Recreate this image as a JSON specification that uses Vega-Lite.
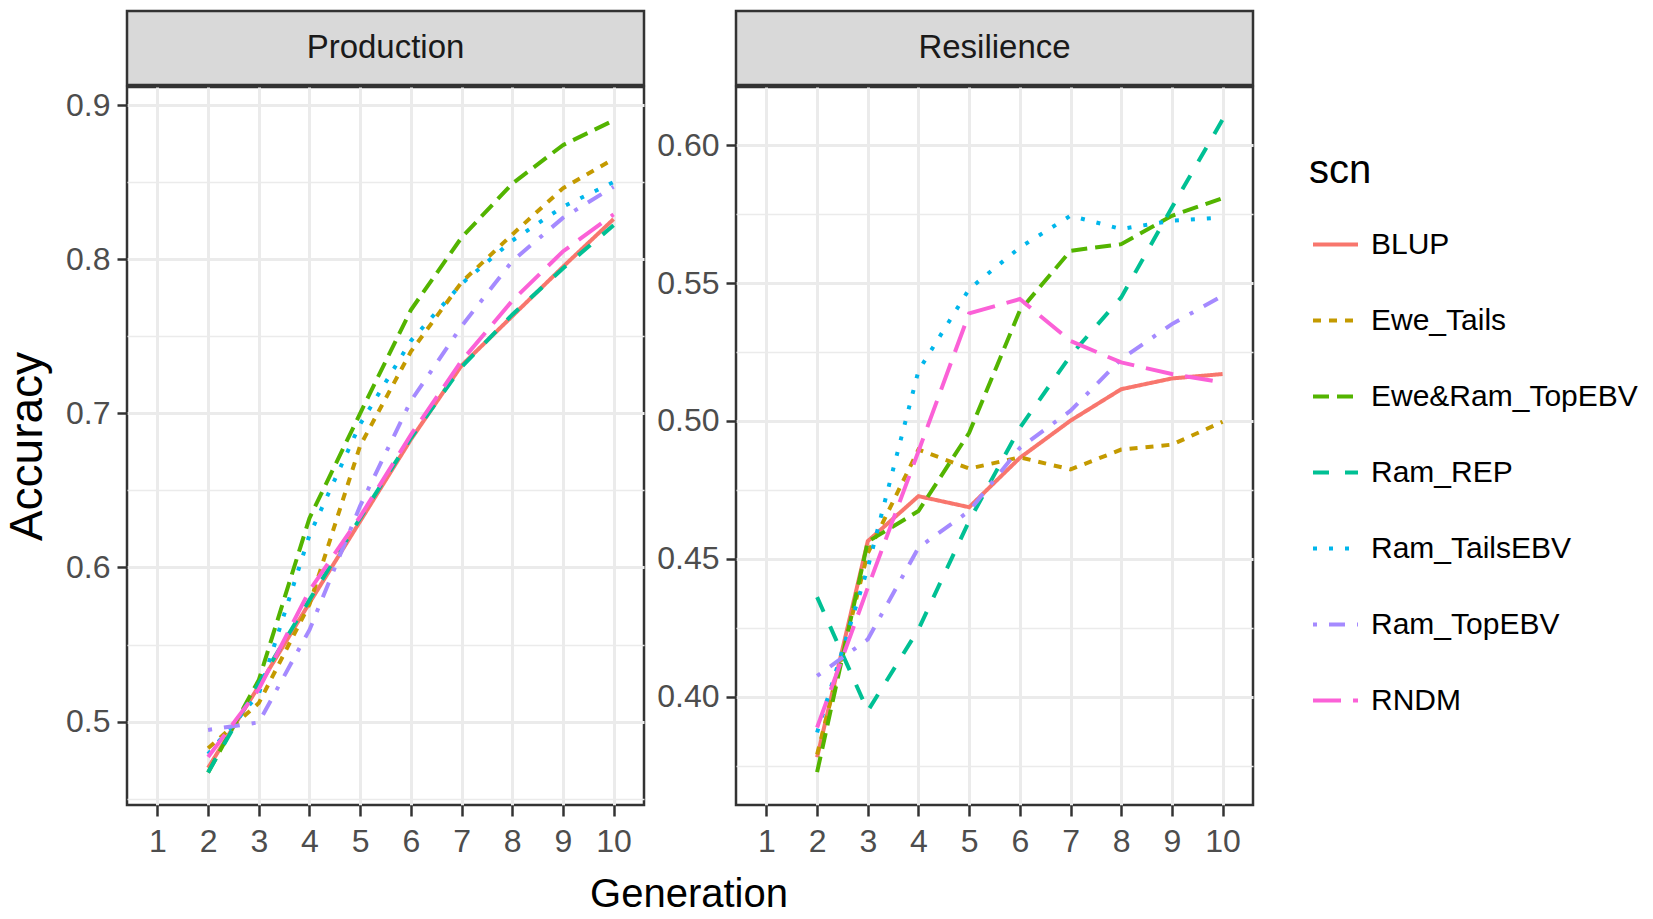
{
  "$schema": "https://vega.github.io/schema/vega-lite/v6.json",
  "background": "white",
  "padding": {"left": 3, "top": 9, "right": 5, "bottom": 0},
  "datasets": {
    "acc": [
      {"trait": "Production", "scn": "BLUP", "gen": 2, "acc": 0.470},
      {"trait": "Production", "scn": "BLUP", "gen": 3, "acc": 0.523},
      {"trait": "Production", "scn": "BLUP", "gen": 4, "acc": 0.577},
      {"trait": "Production", "scn": "BLUP", "gen": 5, "acc": 0.630},
      {"trait": "Production", "scn": "BLUP", "gen": 6, "acc": 0.683},
      {"trait": "Production", "scn": "BLUP", "gen": 7, "acc": 0.731},
      {"trait": "Production", "scn": "BLUP", "gen": 8, "acc": 0.763},
      {"trait": "Production", "scn": "BLUP", "gen": 9, "acc": 0.795},
      {"trait": "Production", "scn": "BLUP", "gen": 10, "acc": 0.826},
      {"trait": "Production", "scn": "Ewe_Tails", "gen": 2, "acc": 0.4827},
      {"trait": "Production", "scn": "Ewe_Tails", "gen": 3, "acc": 0.512},
      {"trait": "Production", "scn": "Ewe_Tails", "gen": 4, "acc": 0.576},
      {"trait": "Production", "scn": "Ewe_Tails", "gen": 5, "acc": 0.679},
      {"trait": "Production", "scn": "Ewe_Tails", "gen": 6, "acc": 0.740},
      {"trait": "Production", "scn": "Ewe_Tails", "gen": 7, "acc": 0.785},
      {"trait": "Production", "scn": "Ewe_Tails", "gen": 8, "acc": 0.816},
      {"trait": "Production", "scn": "Ewe_Tails", "gen": 9, "acc": 0.846},
      {"trait": "Production", "scn": "Ewe_Tails", "gen": 10, "acc": 0.865},
      {"trait": "Production", "scn": "Ewe&Ram_TopEBV", "gen": 2, "acc": 0.467},
      {"trait": "Production", "scn": "Ewe&Ram_TopEBV", "gen": 3, "acc": 0.527},
      {"trait": "Production", "scn": "Ewe&Ram_TopEBV", "gen": 4, "acc": 0.632},
      {"trait": "Production", "scn": "Ewe&Ram_TopEBV", "gen": 5, "acc": 0.700},
      {"trait": "Production", "scn": "Ewe&Ram_TopEBV", "gen": 6, "acc": 0.767},
      {"trait": "Production", "scn": "Ewe&Ram_TopEBV", "gen": 7, "acc": 0.814},
      {"trait": "Production", "scn": "Ewe&Ram_TopEBV", "gen": 8, "acc": 0.849},
      {"trait": "Production", "scn": "Ewe&Ram_TopEBV", "gen": 9, "acc": 0.874},
      {"trait": "Production", "scn": "Ewe&Ram_TopEBV", "gen": 10, "acc": 0.890},
      {"trait": "Production", "scn": "Ram_REP", "gen": 2, "acc": 0.467},
      {"trait": "Production", "scn": "Ram_REP", "gen": 3, "acc": 0.525},
      {"trait": "Production", "scn": "Ram_REP", "gen": 4, "acc": 0.579},
      {"trait": "Production", "scn": "Ram_REP", "gen": 5, "acc": 0.632},
      {"trait": "Production", "scn": "Ram_REP", "gen": 6, "acc": 0.684},
      {"trait": "Production", "scn": "Ram_REP", "gen": 7, "acc": 0.730},
      {"trait": "Production", "scn": "Ram_REP", "gen": 8, "acc": 0.764},
      {"trait": "Production", "scn": "Ram_REP", "gen": 9, "acc": 0.794},
      {"trait": "Production", "scn": "Ram_REP", "gen": 10, "acc": 0.822},
      {"trait": "Production", "scn": "Ram_TailsEBV", "gen": 2, "acc": 0.479},
      {"trait": "Production", "scn": "Ram_TailsEBV", "gen": 3, "acc": 0.518},
      {"trait": "Production", "scn": "Ram_TailsEBV", "gen": 4, "acc": 0.621},
      {"trait": "Production", "scn": "Ram_TailsEBV", "gen": 5, "acc": 0.693},
      {"trait": "Production", "scn": "Ram_TailsEBV", "gen": 6, "acc": 0.747},
      {"trait": "Production", "scn": "Ram_TailsEBV", "gen": 7, "acc": 0.784},
      {"trait": "Production", "scn": "Ram_TailsEBV", "gen": 8, "acc": 0.812},
      {"trait": "Production", "scn": "Ram_TailsEBV", "gen": 9, "acc": 0.834},
      {"trait": "Production", "scn": "Ram_TailsEBV", "gen": 10, "acc": 0.850},
      {"trait": "Production", "scn": "Ram_TopEBV", "gen": 2, "acc": 0.4946},
      {"trait": "Production", "scn": "Ram_TopEBV", "gen": 3, "acc": 0.4995},
      {"trait": "Production", "scn": "Ram_TopEBV", "gen": 4, "acc": 0.5595},
      {"trait": "Production", "scn": "Ram_TopEBV", "gen": 5, "acc": 0.640},
      {"trait": "Production", "scn": "Ram_TopEBV", "gen": 6, "acc": 0.708},
      {"trait": "Production", "scn": "Ram_TopEBV", "gen": 7, "acc": 0.7565},
      {"trait": "Production", "scn": "Ram_TopEBV", "gen": 8, "acc": 0.7987},
      {"trait": "Production", "scn": "Ram_TopEBV", "gen": 9, "acc": 0.8268},
      {"trait": "Production", "scn": "Ram_TopEBV", "gen": 10, "acc": 0.847},
      {"trait": "Production", "scn": "RNDM", "gen": 2, "acc": 0.477},
      {"trait": "Production", "scn": "RNDM", "gen": 3, "acc": 0.521},
      {"trait": "Production", "scn": "RNDM", "gen": 4, "acc": 0.585},
      {"trait": "Production", "scn": "RNDM", "gen": 5, "acc": 0.633},
      {"trait": "Production", "scn": "RNDM", "gen": 6, "acc": 0.686},
      {"trait": "Production", "scn": "RNDM", "gen": 7, "acc": 0.734},
      {"trait": "Production", "scn": "RNDM", "gen": 8, "acc": 0.773},
      {"trait": "Production", "scn": "RNDM", "gen": 9, "acc": 0.805},
      {"trait": "Production", "scn": "RNDM", "gen": 10, "acc": 0.829},
      {"trait": "Resilience", "scn": "BLUP", "gen": 2, "acc": 0.378},
      {"trait": "Resilience", "scn": "BLUP", "gen": 3, "acc": 0.4564},
      {"trait": "Resilience", "scn": "BLUP", "gen": 4, "acc": 0.4727},
      {"trait": "Resilience", "scn": "BLUP", "gen": 5, "acc": 0.4687},
      {"trait": "Resilience", "scn": "BLUP", "gen": 6, "acc": 0.4866},
      {"trait": "Resilience", "scn": "BLUP", "gen": 7, "acc": 0.5001},
      {"trait": "Resilience", "scn": "BLUP", "gen": 8, "acc": 0.5115},
      {"trait": "Resilience", "scn": "BLUP", "gen": 9, "acc": 0.5154},
      {"trait": "Resilience", "scn": "BLUP", "gen": 10, "acc": 0.517},
      {"trait": "Resilience", "scn": "Ewe_Tails", "gen": 2, "acc": 0.379},
      {"trait": "Resilience", "scn": "Ewe_Tails", "gen": 3, "acc": 0.452},
      {"trait": "Resilience", "scn": "Ewe_Tails", "gen": 4, "acc": 0.4896},
      {"trait": "Resilience", "scn": "Ewe_Tails", "gen": 5, "acc": 0.4827},
      {"trait": "Resilience", "scn": "Ewe_Tails", "gen": 6, "acc": 0.4868},
      {"trait": "Resilience", "scn": "Ewe_Tails", "gen": 7, "acc": 0.4824},
      {"trait": "Resilience", "scn": "Ewe_Tails", "gen": 8, "acc": 0.4896},
      {"trait": "Resilience", "scn": "Ewe_Tails", "gen": 9, "acc": 0.4914},
      {"trait": "Resilience", "scn": "Ewe_Tails", "gen": 10, "acc": 0.4997},
      {"trait": "Resilience", "scn": "Ewe&Ram_TopEBV", "gen": 2, "acc": 0.3726},
      {"trait": "Resilience", "scn": "Ewe&Ram_TopEBV", "gen": 3, "acc": 0.4562},
      {"trait": "Resilience", "scn": "Ewe&Ram_TopEBV", "gen": 4, "acc": 0.4673},
      {"trait": "Resilience", "scn": "Ewe&Ram_TopEBV", "gen": 5, "acc": 0.4957},
      {"trait": "Resilience", "scn": "Ewe&Ram_TopEBV", "gen": 6, "acc": 0.540},
      {"trait": "Resilience", "scn": "Ewe&Ram_TopEBV", "gen": 7, "acc": 0.5617},
      {"trait": "Resilience", "scn": "Ewe&Ram_TopEBV", "gen": 8, "acc": 0.5641},
      {"trait": "Resilience", "scn": "Ewe&Ram_TopEBV", "gen": 9, "acc": 0.5744},
      {"trait": "Resilience", "scn": "Ewe&Ram_TopEBV", "gen": 10, "acc": 0.5808},
      {"trait": "Resilience", "scn": "Ram_REP", "gen": 2, "acc": 0.4361},
      {"trait": "Resilience", "scn": "Ram_REP", "gen": 3, "acc": 0.3948},
      {"trait": "Resilience", "scn": "Ram_REP", "gen": 4, "acc": 0.4244},
      {"trait": "Resilience", "scn": "Ram_REP", "gen": 5, "acc": 0.4637},
      {"trait": "Resilience", "scn": "Ram_REP", "gen": 6, "acc": 0.4975},
      {"trait": "Resilience", "scn": "Ram_REP", "gen": 7, "acc": 0.5237},
      {"trait": "Resilience", "scn": "Ram_REP", "gen": 8, "acc": 0.5448},
      {"trait": "Resilience", "scn": "Ram_REP", "gen": 9, "acc": 0.5774},
      {"trait": "Resilience", "scn": "Ram_REP", "gen": 10, "acc": 0.6093},
      {"trait": "Resilience", "scn": "Ram_TailsEBV", "gen": 2, "acc": 0.387},
      {"trait": "Resilience", "scn": "Ram_TailsEBV", "gen": 3, "acc": 0.4467},
      {"trait": "Resilience", "scn": "Ram_TailsEBV", "gen": 4, "acc": 0.5182},
      {"trait": "Resilience", "scn": "Ram_TailsEBV", "gen": 5, "acc": 0.5478},
      {"trait": "Resilience", "scn": "Ram_TailsEBV", "gen": 6, "acc": 0.5629},
      {"trait": "Resilience", "scn": "Ram_TailsEBV", "gen": 7, "acc": 0.5744},
      {"trait": "Resilience", "scn": "Ram_TailsEBV", "gen": 8, "acc": 0.5696},
      {"trait": "Resilience", "scn": "Ram_TailsEBV", "gen": 9, "acc": 0.5726},
      {"trait": "Resilience", "scn": "Ram_TailsEBV", "gen": 10, "acc": 0.5738},
      {"trait": "Resilience", "scn": "Ram_TopEBV", "gen": 2, "acc": 0.4075},
      {"trait": "Resilience", "scn": "Ram_TopEBV", "gen": 3, "acc": 0.4208},
      {"trait": "Resilience", "scn": "Ram_TopEBV", "gen": 4, "acc": 0.454},
      {"trait": "Resilience", "scn": "Ram_TopEBV", "gen": 5, "acc": 0.4673},
      {"trait": "Resilience", "scn": "Ram_TopEBV", "gen": 6, "acc": 0.4902},
      {"trait": "Resilience", "scn": "Ram_TopEBV", "gen": 7, "acc": 0.5037},
      {"trait": "Resilience", "scn": "Ram_TopEBV", "gen": 8, "acc": 0.5224},
      {"trait": "Resilience", "scn": "Ram_TopEBV", "gen": 9, "acc": 0.5351},
      {"trait": "Resilience", "scn": "Ram_TopEBV", "gen": 10, "acc": 0.5454},
      {"trait": "Resilience", "scn": "RNDM", "gen": 2, "acc": 0.3888},
      {"trait": "Resilience", "scn": "RNDM", "gen": 3, "acc": 0.4395},
      {"trait": "Resilience", "scn": "RNDM", "gen": 4, "acc": 0.489},
      {"trait": "Resilience", "scn": "RNDM", "gen": 5, "acc": 0.539},
      {"trait": "Resilience", "scn": "RNDM", "gen": 6, "acc": 0.5442},
      {"trait": "Resilience", "scn": "RNDM", "gen": 7, "acc": 0.529},
      {"trait": "Resilience", "scn": "RNDM", "gen": 8, "acc": 0.5212},
      {"trait": "Resilience", "scn": "RNDM", "gen": 9, "acc": 0.517},
      {"trait": "Resilience", "scn": "RNDM", "gen": 10, "acc": 0.514}
    ]
  },
  "title": {"text": "Generation", "orient": "bottom", "anchor": "middle", "frame": "group", "fontSize": 40, "font": "Liberation Sans", "fontWeight": "normal", "color": "black", "offset": 17, "dx": 562},
  "hconcat": [
    {
      "vconcat": [
        {
          "width": 517, "height": 74,
          "data": {"values": [{"panel": "Production"}]},
          "view": {"fill": "#d9d9d9", "stroke": "#333333", "strokeWidth": 2.5},
          "mark": {"type": "text", "fontSize": 33, "font": "Liberation Sans", "color": "#1a1a1a"},
          "encoding": {"text": {"field": "panel", "type": "nominal"}}
        },
        {
          "width": 517, "height": 718,
          "view": {"stroke": "#333333", "strokeWidth": 2.5},
          "data": {"name": "acc"},
          "transform": [{"filter": "datum.trait == 'Production'"}],
          "mark": {"type": "line", "strokeWidth": 4, "strokeCap": "butt"},
          "encoding": {
            "x": {"field": "gen", "type": "quantitative", "scale": {"domain": [0.4, 10.6], "nice": false, "zero": false},
                  "axis": {"values": [1, 2, 3, 4, 5, 6, 7, 8, 9, 10], "format": "d", "title": null}},
            "y": {"field": "acc", "type": "quantitative", "scale": {"domain": [0.4459, 0.9117], "nice": false, "zero": false},
                  "axis": {"title": "Accuracy",
                           "values": [0.45, 0.5, 0.55, 0.6, 0.65, 0.7, 0.75, 0.8, 0.85, 0.9],
                           "labelExpr": "abs(datum.value*10 - round(datum.value*10)) < 0.001 ? format(datum.value, '.1f') : ''",
                           "gridWidth": {"condition": {"test": "abs(datum.value*10 - round(datum.value*10)) < 0.001", "value": 3}, "value": 1.6},
                           "tickOpacity": {"condition": {"test": "abs(datum.value*10 - round(datum.value*10)) < 0.001", "value": 1}, "value": 0}}},
            "color": {"field": "scn", "type": "nominal", "title": "scn",
                      "scale": {"domain": ["BLUP", "Ewe_Tails", "Ewe&Ram_TopEBV", "Ram_REP", "Ram_TailsEBV", "Ram_TopEBV", "RNDM"],
                                "range": ["#F8766D", "#C49A00", "#53B400", "#00C094", "#00B6EB", "#A58AFF", "#FB61D7"]}},
            "strokeDash": {"field": "scn", "type": "nominal", "title": "scn",
                           "scale": {"domain": ["BLUP", "Ewe_Tails", "Ewe&Ram_TopEBV", "Ram_REP", "Ram_TailsEBV", "Ram_TopEBV", "RNDM"],
                                     "range": [[1, 0], [8, 8], [16, 8], [16, 16], [4, 12], [4, 12, 16, 12], [28, 12]]}}
          }
        }
      ],
      "spacing": -3
    },
    {
      "vconcat": [
        {
          "width": 517, "height": 74,
          "data": {"values": [{"panel": "Resilience"}]},
          "view": {"fill": "#d9d9d9", "stroke": "#333333", "strokeWidth": 2.5},
          "mark": {"type": "text", "fontSize": 33, "font": "Liberation Sans", "color": "#1a1a1a"},
          "encoding": {"text": {"field": "panel", "type": "nominal"}}
        },
        {
          "width": 517, "height": 718,
          "view": {"stroke": "#333333", "strokeWidth": 2.5},
          "data": {"name": "acc"},
          "transform": [{"filter": "datum.trait == 'Resilience'"}],
          "mark": {"type": "line", "strokeWidth": 4, "strokeCap": "butt"},
          "encoding": {
            "x": {"field": "gen", "type": "quantitative", "scale": {"domain": [0.4, 10.6], "nice": false, "zero": false},
                  "axis": {"values": [1, 2, 3, 4, 5, 6, 7, 8, 9, 10], "format": "d", "title": null}},
            "y": {"field": "acc", "type": "quantitative", "scale": {"domain": [0.3607, 0.6211], "nice": false, "zero": false},
                  "axis": {"title": null,
                           "values": [0.375, 0.4, 0.425, 0.45, 0.475, 0.5, 0.525, 0.55, 0.575, 0.6],
                           "labelExpr": "abs(datum.value*20 - round(datum.value*20)) < 0.001 ? format(datum.value, '.2f') : ''",
                           "gridWidth": {"condition": {"test": "abs(datum.value*20 - round(datum.value*20)) < 0.001", "value": 3}, "value": 1.6},
                           "tickOpacity": {"condition": {"test": "abs(datum.value*20 - round(datum.value*20)) < 0.001", "value": 1}, "value": 0}}},
            "color": {"field": "scn", "type": "nominal", "title": "scn",
                      "scale": {"domain": ["BLUP", "Ewe_Tails", "Ewe&Ram_TopEBV", "Ram_REP", "Ram_TailsEBV", "Ram_TopEBV", "RNDM"],
                                "range": ["#F8766D", "#C49A00", "#53B400", "#00C094", "#00B6EB", "#A58AFF", "#FB61D7"]}},
            "strokeDash": {"field": "scn", "type": "nominal", "title": "scn",
                           "scale": {"domain": ["BLUP", "Ewe_Tails", "Ewe&Ram_TopEBV", "Ram_REP", "Ram_TailsEBV", "Ram_TopEBV", "RNDM"],
                                     "range": [[1, 0], [8, 8], [16, 8], [16, 16], [4, 12], [4, 12, 16, 12], [28, 12]]}}
          }
        }
      ],
      "spacing": -3
    }
  ],
  "spacing": 9,
  "resolve": {"scale": {"color": "shared", "strokeDash": "shared"}, "legend": {"color": "shared", "strokeDash": "shared"}},
  "config": {
    "view": {"stroke": null},
    "axis": {
      "labelFont": "Liberation Sans", "labelFontSize": 32, "labelColor": "#4d4d4d",
      "tickColor": "#333333", "tickWidth": 2.5, "domain": false,
      "gridColor": "#ebebeb", "gridWidth": 3,
      "titleFont": "Liberation Sans", "titleFontWeight": "normal", "titleColor": "black",
      "labelOverlap": false, "labelFlush": false
    },
    "axisX": {"tickSize": 11, "labelPadding": 10},
    "axisY": {"tickSize": 10, "labelPadding": 7, "titleFontSize": 46, "titlePadding": 14},
    "legend": {
      "orient": "none", "legendX": 1182, "legendY": 140,
      "titleFont": "Liberation Sans", "titleFontSize": 40, "titleFontWeight": "normal", "titleColor": "black",
      "labelFont": "Liberation Sans", "labelFontSize": 30, "labelColor": "black", "labelLimit": 0,
      "symbolType": "stroke", "symbolSize": 2025, "symbolStrokeWidth": 4,
      "rowPadding": 36, "titlePadding": 29, "labelOffset": 11, "symbolOffset": 2, "padding": 0
    }
  }
}
